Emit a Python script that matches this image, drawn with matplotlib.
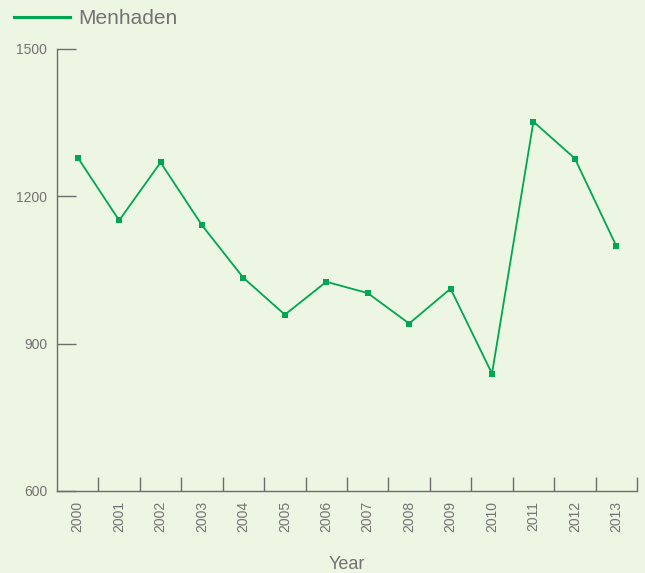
import numpy as np
import matplotlib
matplotlib.use("Agg")
import matplotlib.pyplot as plt
from matplotlib.lines import Line2D

years = [2000, 2001, 2002, 2003, 2004, 2005, 2006, 2007, 2008, 2009, 2010, 2011, 2012, 2013]
menhaden = [1279, 1151, 1269, 1141, 1034, 959, 1026, 1003, 941, 1012, 839, 1352, 1277, 1099]

BG = "#edf5e3"
GREEN = "#00a651"
GREY = "#737373"
AXC = "#6d6d6d"

plt.rcParams["font.family"] = ["Liberation Sans", "DejaVu Sans"]

fig = plt.figure(figsize=(6.45, 5.73), dpi=100, facecolor=BG)
ax = fig.add_axes([57 / 645, 1 - 491 / 573, 580 / 645, 442 / 573], facecolor=BG)

ax.plot(years, menhaden, "-s", color=GREEN, lw=1.3, ms=4, mew=0)

ax.set_xlim(1999.5, 2013.5)
ax.set_ylim(600, 1500)
ax.set_yticks([600, 900, 1200, 1500])
ax.set_xticks(years)
ax.set_xticklabels([str(y) for y in years], rotation=90)
ax.set_xticks(np.arange(2000.5, 2014, 1.0), minor=True)

for s in ("top", "right"):
    ax.spines[s].set_visible(False)
for s in ("left", "bottom"):
    ax.spines[s].set_color(AXC)
    ax.spines[s].set_linewidth(1.0)

ax.tick_params(axis="y", direction="in", length=14, width=1.0, color=AXC,
               labelcolor=GREY, labelsize=10, pad=7)
ax.tick_params(axis="x", which="major", length=0, labelcolor=GREY, labelsize=10, pad=7)
ax.tick_params(axis="x", which="minor", direction="in", length=10, width=1.0, color=AXC)

ax.set_xlabel("Year", color=GREY, fontsize=13, labelpad=17)

# legend drawn by hand at the top left
fig.add_artist(Line2D([14 / 645, 70 / 645], [1 - 17 / 573, 1 - 17 / 573],
                      color=GREEN, lw=2.2, transform=fig.transFigure))
fig.text(78 / 645, 1 - 17 / 573, "Menhaden", color=GREY, fontsize=15,
         va="center_baseline", ha="left")

fig.savefig("out.png", dpi=100, facecolor=BG)
